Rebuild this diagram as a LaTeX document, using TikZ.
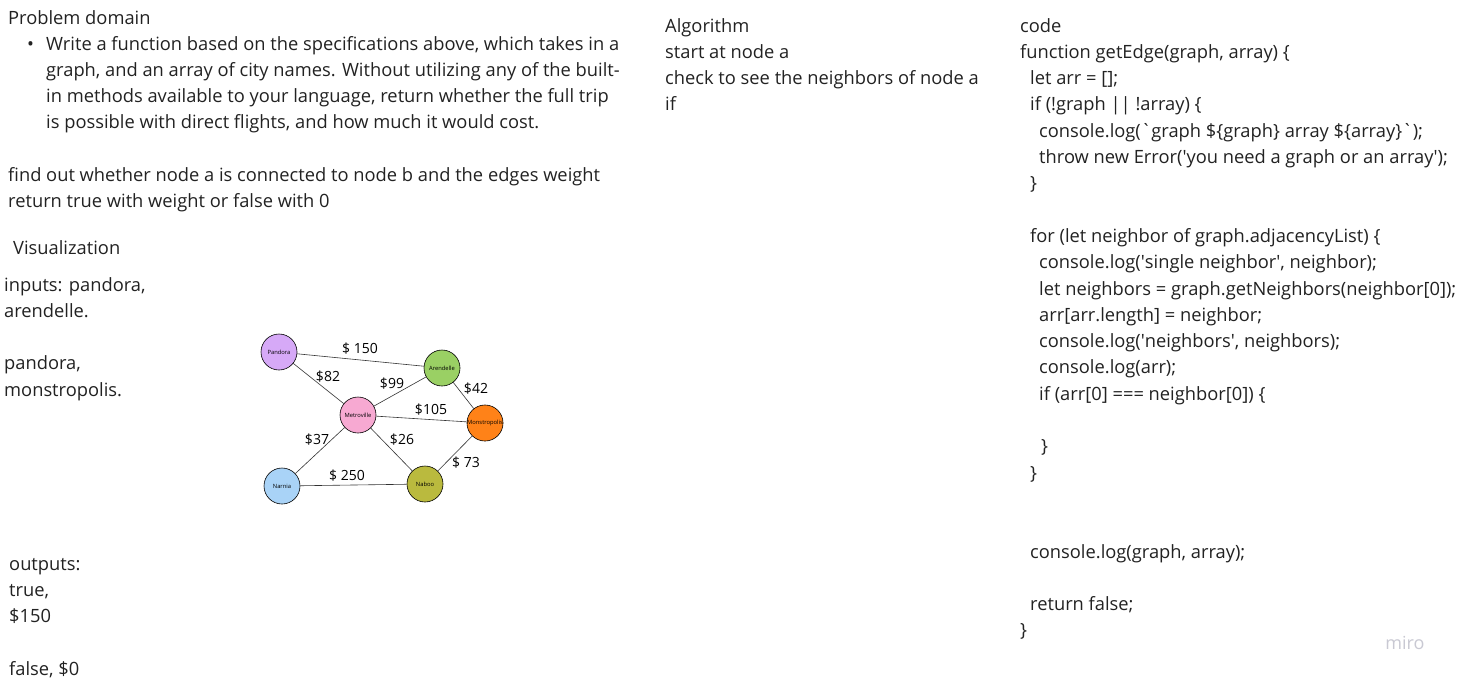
\documentclass[tikz,border=0pt]{standalone}
\usepackage{fontspec}
\setmainfont{Open Sans}
\usetikzlibrary{calc}

\definecolor{txtgray}{HTML}{222222}
\definecolor{cpandora}{HTML}{D6A9F7}
\definecolor{carendelle}{HTML}{9AD064}
\definecolor{cmetro}{HTML}{F7A9D2}
\definecolor{cmonstro}{HTML}{FF8218}
\definecolor{cnarnia}{HTML}{A9D3F7}
\definecolor{cnaboo}{HTML}{BABA3E}
\definecolor{mirogray}{HTML}{C9C9D3}

\tikzset{
  txt/.style={anchor=base west, inner sep=0pt, text=txtgray,
    font=\fontsize{18.3}{22}\selectfont},
  city/.style={circle, draw=black, line width=0.6pt, minimum size=36pt,
    inner sep=0pt, font=\fontsize{5.8}{6}\selectfont},
  road/.style={draw=black!80, line width=0.6pt},
  cost/.style={inner sep=0pt, font=\fontsize{14}{14}\selectfont}
}
\newcommand{\sq}{\textquotesingle}
\newcommand{\bq}{\textasciigrave}

\begin{document}
\begin{tikzpicture}[x=1pt, y=-1pt]
  \useasboundingbox (0,0) rectangle (1462,683);
  \fill[white] (0,0) rectangle (1462,683);

  % left column
  \node[txt] (pd) at (8,24) {Problem domain};
  \node[txt] (bul) at (27,50) {•};
  \foreach \i/\t in {0/{Write a function based on the specifications above, which takes in a},
                     1/{graph, and an array of city names. Without utilizing any of the built-},
                     2/{in methods available to your language, return whether the full trip},
                     3/{is possible with direct flights, and how much it would cost.}}
    \node[txt] (spec\i) at (46,50+\i*26.3) {\t};
  \node[txt] (find1) at (8,181) {find out whether node a is connected to node b and the edges weight};
  \node[txt] (find2) at (8,207) {return true with weight or false with 0};
  \node[txt] (vis) at (13,254) {Visualization};
  \foreach \i/\t in {0/{inputs: pandora,}, 1/{arendelle.}, 3/{pandora,}, 4/{monstropolis.}}
    \node[txt] (in\i) at (4,291+\i*26.3) {\t};
  \foreach \i/\t in {0/{outputs:}, 1/{true,}, 2/{\$150}, 4/{false, \$0}}
    \node[txt] (out\i) at (9,570+\i*26.3) {\t};

  % algorithm
  \foreach \i/\t in {0/Algorithm, 1/{start at node a}, 2/{check to see the neighbors of node a}, 3/if}
    \node[txt] (alg\i) at (665,32+\i*26.3) {\t};

  % code
  \foreach \i/\dx/\t in {0/0/code,
      1/0/{function getEdge(graph, array) \{},
      2/10/{let arr = [];},
      3/10/{if (!graph || !array) \{},
      4/19/{console.log(\bq graph \$\{graph\} array \$\{array\}\bq);},
      5/19/{throw new Error(\sq you need a graph or an array\sq);},
      6/10/\},
      8/10/{for (let neighbor of graph.adjacencyList) \{},
      9/19/{console.log(\sq single neighbor\sq, neighbor);},
      10/19/{let neighbors = graph.getNeighbors(neighbor[0]);},
      11/19/{arr[arr.length] = neighbor;},
      12/19/{console.log(\sq neighbors\sq, neighbors);},
      13/19/{console.log(arr);},
      14/19/{if (arr[0] === neighbor[0]) \{},
      16/21/\},
      17/10/\},
      20/10/{console.log(graph, array);},
      22/10/{return false;},
      23/0/\}}
    \node[txt] (code\i) at (1020+\dx,32+\i*26.3) {\t};

  % graph of cities
  \node[city, fill=cpandora] (pandora) at (279,352) {Pandora};
  \node[city, fill=carendelle] (arendelle) at (442,368) {Arendelle};
  \node[city, fill=cmetro] (metroville) at (358,415) {Metroville};
  \node[city, fill=cmonstro] (monstropolis) at (485,423) {Monstropolis};
  \node[city, fill=cnarnia] (narnia) at (282,486) {Narnia};
  \node[city, fill=cnaboo] (naboo) at (425,484) {Naboo};
  \draw[road] (pandora) -- (arendelle);
  \draw[road] (pandora) -- (metroville);
  \draw[road] (metroville) -- (arendelle);
  \draw[road] (arendelle) -- (monstropolis);
  \draw[road] (metroville) -- (monstropolis);
  \draw[road] (metroville) -- (narnia);
  \draw[road] (metroville) -- (naboo);
  \draw[road] (narnia) -- (naboo);
  \draw[road] (naboo) -- (monstropolis);
  \node[cost] (c150) at (360,349) {\$ 150};
  \node[cost] (c82) at (328,377) {\$82};
  \node[cost] (c99) at (392,384) {\$99};
  \node[cost] (c42) at (476,389) {\$42};
  \node[cost] (c105) at (431,410) {\$105};
  \node[cost] (c37) at (317,440) {\$37};
  \node[cost] (c26) at (402,440) {\$26};
  \node[cost] (c250) at (347,476) {\$ 250};
  \node[cost] (c73) at (466,463) {\$ 73};

  \node[inner sep=0pt, text=mirogray, font=\fontsize{18}{18}\selectfont] (miro) at (1405,643) {miro};
\end{tikzpicture}
\end{document}
